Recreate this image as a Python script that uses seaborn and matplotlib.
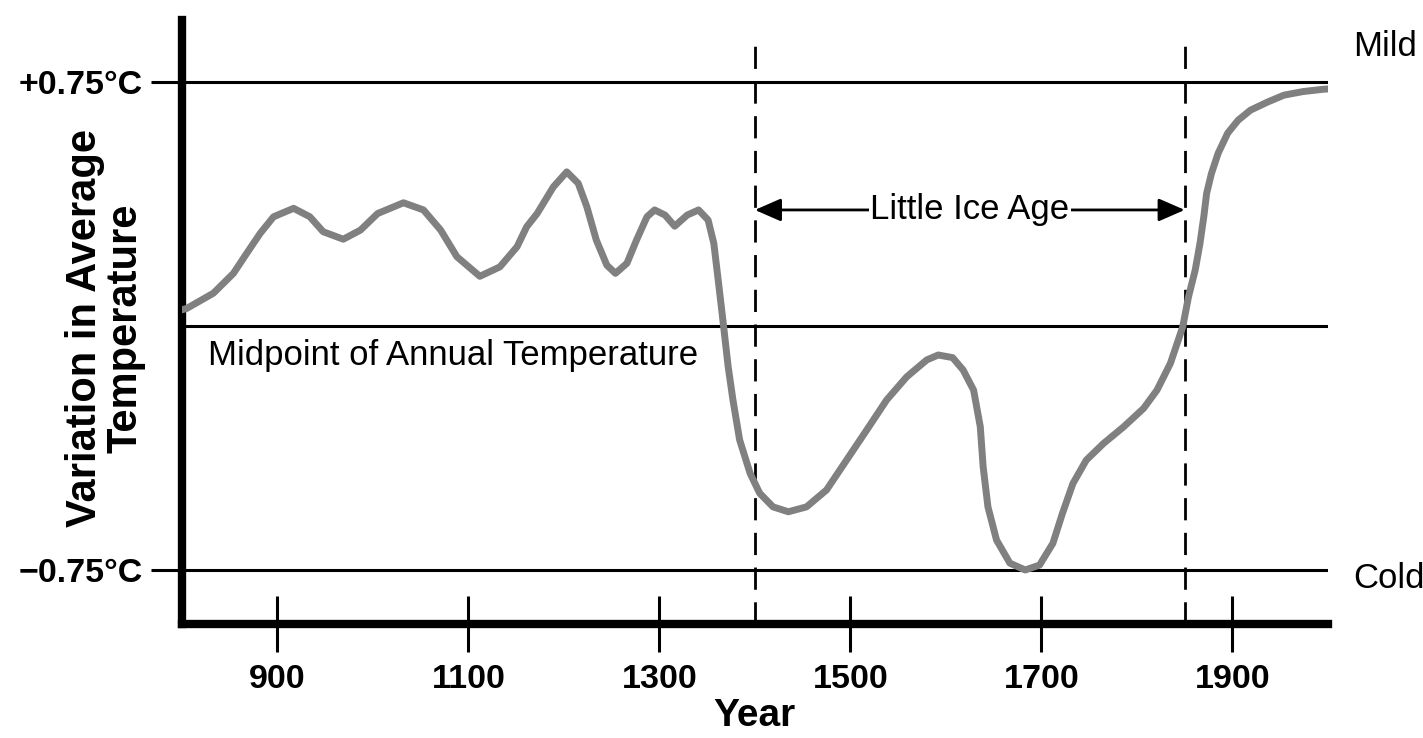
import matplotlib
matplotlib.use("Agg")
import matplotlib.pyplot as plt
import pandas as pd
import seaborn as sns

# temperature curve (year, variation in degC)
years = [800, 805, 833, 854, 868, 882, 896, 917, 934, 948, 969, 987, 1005,
         1032, 1053, 1071, 1088, 1112, 1133, 1151, 1161, 1172, 1189, 1203,
         1215, 1224, 1234, 1245, 1254, 1266, 1276, 1287, 1295, 1306, 1316,
         1329, 1341, 1351, 1357, 1362, 1367, 1372, 1377, 1384, 1395, 1405,
         1419, 1435, 1454, 1475, 1496, 1517, 1538, 1559, 1580, 1592, 1607,
         1618, 1629, 1636, 1639, 1644, 1653, 1667, 1683, 1698, 1712, 1722,
         1733, 1747, 1765, 1786, 1807, 1821, 1835, 1848, 1854, 1861, 1866,
         1870, 1873, 1878, 1885, 1895, 1906, 1919, 1937, 1954, 1974, 1995,
         2000]
temp_var = [0.05, 0.054, 0.101, 0.162, 0.224, 0.285, 0.336, 0.362, 0.336,
            0.29, 0.267, 0.295, 0.346, 0.379, 0.357, 0.295, 0.213, 0.153,
            0.182, 0.244, 0.305, 0.346, 0.428, 0.474, 0.439, 0.367, 0.264,
            0.187, 0.162, 0.193, 0.264, 0.336, 0.357, 0.341, 0.307, 0.341,
            0.357, 0.326, 0.254, 0.131, 0.005, -0.125, -0.227, -0.35, -0.453,
            -0.514, -0.556, -0.571, -0.556, -0.504, -0.412, -0.32, -0.227,
            -0.156, -0.104, -0.089, -0.097, -0.135, -0.197, -0.31, -0.433,
            -0.556, -0.658, -0.729, -0.75, -0.735, -0.668, -0.576, -0.484,
            -0.412, -0.361, -0.31, -0.253, -0.197, -0.115, -0.002, 0.09,
            0.172, 0.254, 0.336, 0.408, 0.469, 0.531, 0.593, 0.633, 0.664,
            0.689, 0.71, 0.721, 0.728, 0.729]

x_ticks = [900, 1100, 1300, 1500, 1700, 1900]
y_ticks = [-0.75, 0.75]
y_tick_labels = ["\u22120.75°C", "+0.75°C"]
ref_levels = [-0.75, 0.0, 0.75]
ice_age = [1400, 1850]

sns.set_style("white")
plt.rcParams["font.family"] = ["Liberation Sans", "DejaVu Sans"]
plt.rcParams.update({"text.color": "black", "axes.labelcolor": "black",
                     "xtick.color": "black", "ytick.color": "black"})

fig = plt.figure(figsize=(14.23, 7.38), dpi=100)
ax = fig.add_axes([0.1278, 0.1545, 0.8054, 0.8184])

ymin, ymax = -0.916, 0.941

# reference levels and the Little Ice Age bounds
ax.hlines(ref_levels, 800, 2000, colors="black", linewidth=2.2, zorder=1)
ax.vlines(ice_age, ymin, 0.885, colors="black", linewidth=2,
          linestyles=(0, (8, 4.5)), zorder=1)

df = pd.DataFrame({"Year": years, "Variation": temp_var})
sns.lineplot(data=df, x="Year", y="Variation", color="#808080", linewidth=5,
             ax=ax, solid_capstyle="round", solid_joinstyle="round", zorder=3)

# double arrow with label
ax.annotate("", xy=(ice_age[0], 0.357), xytext=(ice_age[1], 0.357),
            arrowprops=dict(arrowstyle="<|-|>,head_length=0.8,head_width=0.35",
                            color="black", lw=2, mutation_scale=20,
                            shrinkA=0, shrinkB=0))
ax.text(sum(ice_age) / 2, 0.357, "Little Ice Age", ha="center", va="center",
        fontsize=25, bbox=dict(facecolor="white", edgecolor="none", pad=1))

ax.text(827, -0.089, "Midpoint of Annual Temperature", ha="left",
        va="center", fontsize=25)
ax.text(2026, 0.858, "Mild", ha="left", va="center", fontsize=25, clip_on=False)
ax.text(2026, -0.775, "Cold", ha="left", va="center", fontsize=25, clip_on=False)

ax.set_xlim(800, 2000)
ax.set_ylim(ymin, ymax)

ax.set_xticks(x_ticks)
ax.set_xticklabels([str(t) for t in x_ticks], fontsize=24.5, fontweight="bold")
ax.set_yticks(y_ticks)
ax.set_yticklabels(y_tick_labels, fontsize=24.5, fontweight="bold")
ax.tick_params(axis="x", bottom=True, direction="inout", length=41, width=2.2,
               pad=8.5)
ax.tick_params(axis="y", left=True, direction="out", length=22, width=2.2,
               pad=6)

ax.set_xlabel("Year", fontsize=28, fontweight="bold", labelpad=2)
ax.set_ylabel("")
fig.text(105 / 1423, 1 - 328 / 738, "Variation in Average\nTemperature",
         rotation=90, ha="center", va="center", fontsize=30,
         fontweight="bold", linespacing=1.0, multialignment="center")

sns.despine(ax=ax)
for side in ["left", "bottom"]:
    ax.spines[side].set_linewidth(6)
    ax.spines[side].set_color("black")
    ax.spines[side].set_capstyle("projecting")

fig.savefig("out.png", dpi=100, facecolor="white")
